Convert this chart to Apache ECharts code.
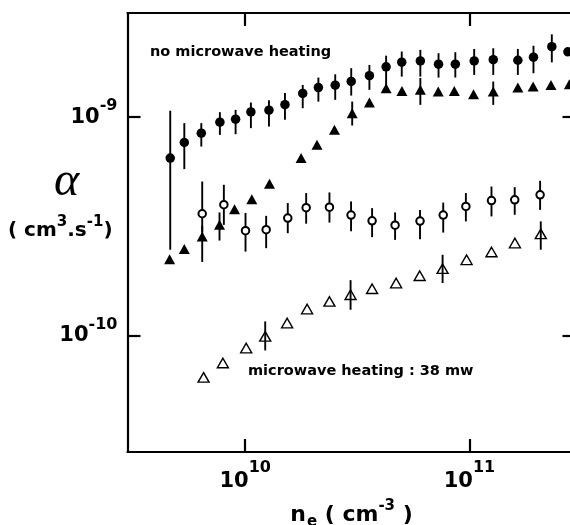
<!DOCTYPE html>
<html><head><meta charset="utf-8">
<script src="https://cdn.jsdelivr.net/npm/echarts@6/dist/echarts.min.js"></script>
<style>html,body{margin:0;padding:0;background:#fff}#c{width:570px;height:525px}</style>
</head><body><div id="c"></div>
<script>
// x ticks / y ticks (log axes)
const xTicks = [1e10, 1e11];
const yTicks = [1e-10, 1e-9];
const xRange = [Math.pow(10, 9.475), Math.pow(10, 11.473)];
const yRange = [Math.pow(10, -10.53), Math.pow(10, -8.524)];

// filled circles : no microwave heating, alpha
const fcX = [4.63e9, 5.35e9, 6.37e9, 7.71e9, 9.06e9, 1.06e10, 1.276e10, 1.504e10, 1.805e10, 2.12e10, 2.52e10, 2.97e10, 3.58e10, 4.25e10, 4.99e10, 6.04e10, 7.28e10, 8.65e10, 1.05e11, 1.277e11, 1.644e11, 1.93e11, 2.33e11, 2.75e11];
const fcY = [6.50e-10, 7.66e-10, 8.45e-10, 9.49e-10, 9.79e-10, 1.057e-9, 1.076e-9, 1.14e-9, 1.284e-9, 1.365e-9, 1.40e-9, 1.456e-9, 1.547e-9, 1.698e-9, 1.783e-9, 1.807e-9, 1.746e-9, 1.746e-9, 1.807e-9, 1.832e-9, 1.82e-9, 1.88e-9, 2.10e-9, 1.99e-9];
const fcLo = [2.48e-10, 5.79e-10, 7.34e-10, 8.30e-10, 8.36e-10, 8.91e-10, 9.06e-10, 9.72e-10, 1.099e-9, 1.178e-9, 1.20e-9, 1.255e-9, 1.333e-9, 1.357e-9, 1.532e-9, 1.532e-9, 1.517e-9, 1.517e-9, 1.56e-9, 1.56e-9, 1.56e-9, 1.588e-9, 1.78e-9, null];
const fcHi = [1.07e-9, 9.39e-10, 9.39e-10, 1.054e-9, 1.08e-9, 1.166e-9, 1.196e-9, 1.288e-9, 1.404e-9, 1.517e-9, 1.57e-9, 1.674e-9, 1.733e-9, 1.91e-9, 1.994e-9, 2.03e-9, 1.96e-9, 1.98e-9, 2.05e-9, 2.065e-9, 2.05e-9, 2.12e-9, 2.39e-9, null];

// filled triangles : no microwave heating, second set
const ftX = [4.60e9, 5.35e9, 6.43e9, 7.68e9, 8.96e9, 1.07e10, 1.283e10, 1.775e10, 2.09e10, 2.50e10, 3.00e10, 3.58e10, 4.25e10, 5.00e10, 6.04e10, 7.26e10, 8.56e10, 1.043e11, 1.277e11, 1.644e11, 1.923e11, 2.31e11, 2.79e11];
const ftY = [2.24e-10, 2.50e-10, 2.85e-10, 3.22e-10, 3.80e-10, 4.22e-10, 4.96e-10, 6.50e-10, 7.48e-10, 8.75e-10, 1.042e-9, 1.166e-9, 1.357e-9, 1.318e-9, 1.333e-9, 1.309e-9, 1.318e-9, 1.274e-9, 1.309e-9, 1.365e-9, 1.380e-9, 1.404e-9, 1.415e-9];
const ftLo = [null, null, 2.18e-10, 2.73e-10, null, null, null, null, null, null, 9.16e-10, null, null, null, 1.138e-9, null, null, null, 1.138e-9, null, null, null, null];
const ftHi = [null, null, 3.19e-10, 3.67e-10, null, null, null, null, null, null, 1.178e-9, null, null, null, 1.511e-9, null, null, null, 1.455e-9, null, null, null, null];

// open circles : microwave heating 38 mW
const ocX = [6.43e9, 8.03e9, 1.003e10, 1.24e10, 1.548e10, 1.87e10, 2.375e10, 2.965e10, 3.68e10, 4.66e10, 6.02e10, 7.64e10, 9.64e10, 1.254e11, 1.592e11, 2.066e11];
const ocY = [3.62e-10, 3.98e-10, 3.03e-10, 3.06e-10, 3.46e-10, 3.86e-10, 3.88e-10, 3.57e-10, 3.36e-10, 3.21e-10, 3.35e-10, 3.57e-10, 3.91e-10, 4.16e-10, 4.19e-10, 4.42e-10];
const ocLo = [2.99e-10, 3.22e-10, 2.43e-10, 2.52e-10, 2.95e-10, 3.26e-10, 3.30e-10, 3.01e-10, 2.83e-10, 2.75e-10, 2.77e-10, 2.97e-10, 3.34e-10, 3.52e-10, 3.58e-10, 3.77e-10];
const ocHi = [5.08e-10, 4.91e-10, 3.65e-10, 3.54e-10, 4.05e-10, 4.50e-10, 4.53e-10, 4.12e-10, 3.84e-10, 3.67e-10, 3.77e-10, 4.07e-10, 4.50e-10, 4.82e-10, 4.79e-10, 5.12e-10];

// open triangles : microwave heating 38 mW, second set
const otX = [6.52e9, 7.95e9, 1.010e10, 1.228e10, 1.538e10, 1.888e10, 2.375e10, 2.95e10, 3.68e10, 4.71e10, 6.00e10, 7.59e10, 9.71e10, 1.254e11, 1.595e11, 2.08e11];
const otY = [6.47e-11, 7.53e-11, 8.81e-11, 9.96e-11, 1.146e-10, 1.328e-10, 1.439e-10, 1.544e-10, 1.644e-10, 1.746e-10, 1.885e-10, 2.03e-10, 2.23e-10, 2.42e-10, 2.66e-10, 2.93e-10];
const otLo = [null, null, null, 8.59e-11, null, null, null, 1.318e-10, null, null, null, 1.746e-10, null, null, null, 2.48e-10];
const otHi = [null, null, null, 1.166e-10, null, null, null, 1.80e-10, null, null, null, 2.35e-10, null, null, null, 3.34e-10];

const FONT = '"DejaVu Sans", sans-serif';

function pts(xs, ys) { return xs.map((x, i) => [x, ys[i]]); }
function errSeries(xs, lo, hi) {
  const data = [];
  xs.forEach((x, i) => { if (lo[i] != null) data.push([x, lo[i], hi[i]]); });
  return {
    type: 'custom', data: data, z: 1, silent: true, clip: false,
    encode: { x: 0, y: [1, 2] },
    renderItem: function (params, api) {
      const a = api.coord([api.value(0), api.value(1)]);
      const b = api.coord([api.value(0), api.value(2)]);
      return { type: 'line', shape: { x1: a[0], y1: a[1], x2: b[0], y2: b[1] },
               style: { stroke: '#000', lineWidth: 1.9 } };
    }
  };
}

const axisLineStyle = { lineStyle: { color: '#000', width: 2.2 } };
const tickStyle = { inside: true, length: 13, lineStyle: { color: '#000', width: 2.2 } };
function expOf(v) { return Math.round(Math.log10(v)); }

const chart = echarts.init(document.getElementById('c'), null, { renderer: 'canvas' });
chart.setOption({
  backgroundColor: '#fff',
  animation: false,
  grid: { left: 127.5, top: 13, width: 448, height: 439, containLabel: false, outerBoundsMode: 'none' },
  xAxis: [{
    type: 'log', position: 'bottom', min: xRange[0], max: xRange[1],
    axisLine: axisLineStyle,
    axisTick: Object.assign({ customValues: xTicks }, tickStyle),
    splitLine: { show: false },
    axisLabel: {
      customValues: xTicks, margin: 8,
      formatter: v => '{b|10}{s|' + expOf(v) + '}',
      rich: {
        b: { fontFamily: FONT, fontWeight: 'bold', fontSize: 21, color: '#000' },
        s: { fontFamily: FONT, fontWeight: 'bold', fontSize: 16, color: '#000', padding: [0, 0, 28, 0] }
      }
    },
    name: '{b|n}{e|e}{b| ( cm}{s|-3}{b| )}',
    nameLocation: 'middle', nameGap: 47,
    nameTextStyle: {
      rich: {
        b: { fontFamily: FONT, fontWeight: 'bold', fontSize: 22, color: '#000' },
        e: { fontFamily: FONT, fontWeight: 'bold', fontSize: 15, color: '#000', padding: [14, 0, 0, 1] },
        s: { fontFamily: FONT, fontWeight: 'bold', fontSize: 15, color: '#000', padding: [0, 0, 18, 0] }
      }
    }
  }, {
    type: 'log', position: 'top', min: xRange[0], max: xRange[1],
    axisLine: axisLineStyle,
    axisTick: Object.assign({ customValues: xTicks }, tickStyle),
    axisLabel: { show: false }, splitLine: { show: false }
  }],
  yAxis: [{
    type: 'log', position: 'left', min: yRange[0], max: yRange[1],
    axisLine: axisLineStyle,
    axisTick: Object.assign({ customValues: yTicks }, tickStyle),
    splitLine: { show: false },
    axisLabel: {
      customValues: yTicks, margin: 10,
      formatter: v => '{b|10}{s|' + expOf(v) + '}',
      rich: {
        b: { fontFamily: FONT, fontWeight: 'bold', fontSize: 21, color: '#000' },
        s: { fontFamily: FONT, fontWeight: 'bold', fontSize: 16, color: '#000', padding: [0, 0, 22, 0] }
      }
    }
  }, {
    type: 'log', position: 'right', min: yRange[0], max: yRange[1],
    axisLine: axisLineStyle,
    axisTick: Object.assign({ customValues: yTicks }, tickStyle),
    axisLabel: { show: false }, splitLine: { show: false }
  }],
  graphic: [
    { type: 'text', left: 150, top: 45, style: { text: 'no microwave heating', fill: '#000',
      font: 'bold 14.5px ' + FONT } },
    { type: 'text', left: 248, top: 364, style: { text: 'microwave heating : 38 mw', fill: '#000',
      font: 'bold 14.5px ' + FONT } },
    { type: 'text', left: 54, top: 158, style: { text: 'α', fill: '#000',
      font: 'italic 48px "Liberation Serif", serif' } },
    { type: 'text', left: 8, top: 215, style: {
      text: '{b|( cm}{s|3}{b|.s}{s|-1}{b|)}',
      rich: {
        b: { fontFamily: FONT, fontWeight: 'bold', fontSize: 20, fill: '#000', color: '#000' },
        s: { fontFamily: FONT, fontWeight: 'bold', fontSize: 15, fill: '#000', color: '#000', padding: [0, 0, 16, 0] }
      } } }
  ],
  series: [
    errSeries(fcX, fcLo, fcHi),
    errSeries(ftX, ftLo, ftHi),
    errSeries(ocX, ocLo, ocHi),
    errSeries(otX, otLo, otHi),
    { type: 'scatter', data: pts(fcX, fcY), symbol: 'circle', symbolSize: 9.5, z: 3,
      itemStyle: { color: '#000', opacity: 1 } },
    { type: 'scatter', data: pts(ftX, ftY), symbol: 'triangle', symbolSize: [11, 10], z: 3,
      itemStyle: { color: '#000', opacity: 1 } },
    { type: 'scatter', data: pts(ocX, ocY), symbol: 'circle', symbolSize: 7.5, z: 3,
      itemStyle: { color: '#fff', borderColor: '#000', borderWidth: 2, opacity: 1 } },
    { type: 'scatter', data: pts(otX, otY), symbol: 'triangle', symbolSize: [11, 9.5], z: 3,
      itemStyle: { color: 'rgba(255,255,255,0)', borderColor: '#000', borderWidth: 1.4, opacity: 1 } }
  ]
});
</script>
</body></html>
